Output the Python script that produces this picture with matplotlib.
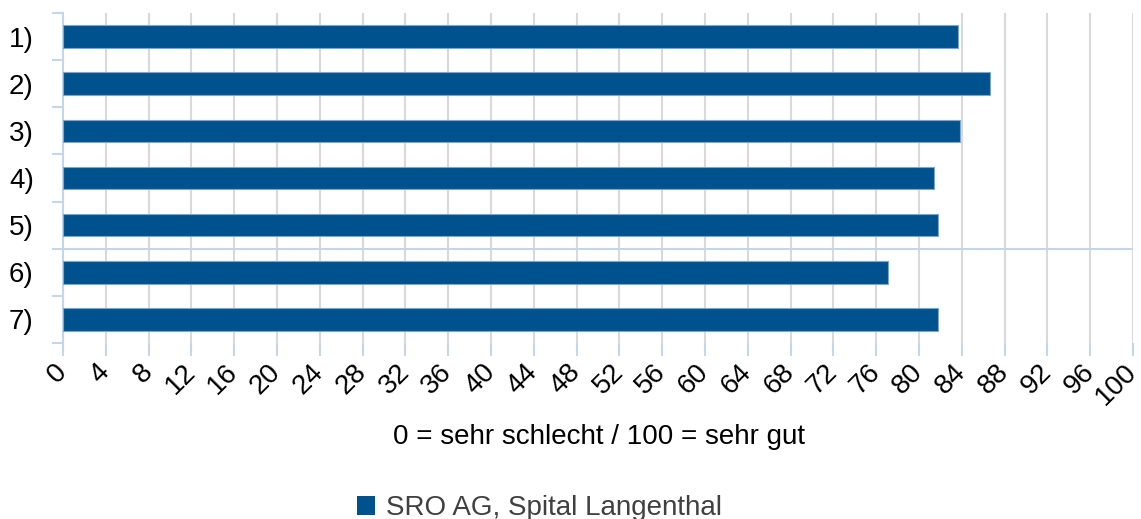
import matplotlib
matplotlib.use("Agg")
import matplotlib.pyplot as plt
from matplotlib.patches import Patch
import numpy as np

plt.rcParams['font.family'] = ['Liberation Sans', 'DejaVu Sans']

categories = ["1)", "2)", "3)", "4)", "5)", "6)", "7)"]
values = [83.6, 86.6, 83.8, 81.4, 81.8, 77.1, 81.8]
series_name = "SRO AG, Spital Langenthal"
xticks = list(range(0, 101, 4))
xlabel = "0 = sehr schlecht / 100 = sehr gut"

bar_color = "#00528F"
axis_blue = "#C6D6EA"
grid_gray = "#D9D9D9"

fig = plt.figure(figsize=(11.41, 5.19), dpi=100)
ax = fig.add_axes([63/1141, 1-343/519, (1133-63)/1141, (343-13)/519])

pos = np.arange(len(categories))
ax.barh(pos, values, height=0.48, color=bar_color, edgecolor="#7FA5C8", linewidth=0.8, zorder=3)

ax.set_xlim(0, 100)
ax.set_ylim(len(categories)-0.5, -0.5)

# gridlines
for t in xticks[1:]:
    ax.axvline(t, color=grid_gray, lw=1.5, zorder=1)
# stray horizontal axis line between 5) and 6)
ax.axhline(4.5, color=axis_blue, lw=1.5, zorder=2)

for s in ['top', 'right', 'bottom']:
    ax.spines[s].set_visible(False)
ax.spines['left'].set_color(axis_blue)
ax.spines['left'].set_linewidth(1.5)

ax.set_xticks(xticks)
ax.set_xticklabels([str(t) for t in xticks], rotation=45, ha='right', va='center',
                   rotation_mode='anchor', fontsize=20)
ax.tick_params(axis='x', length=9, width=1.5, color=axis_blue, pad=9)

ax.set_yticks(pos)
ax.set_yticklabels(categories, fontsize=20)
ax.tick_params(axis='y', length=0, pad=21)
ax.set_yticks(np.arange(-0.5, len(categories)), minor=True)
ax.tick_params(axis='y', which='minor', length=8, width=1.5, color=axis_blue)

fig.text(599/1141, 1-437/519, xlabel, ha='center', va='center', fontsize=20, color='black')

fig.legend(handles=[Patch(facecolor=bar_color, label=series_name)],
           loc='center left', bbox_to_anchor=(346/1141, 1-508/519), frameon=False,
           fontsize=20, handlelength=0.65, handleheight=0.65, handletextpad=0.4,
           labelcolor='#404040', borderaxespad=0)

fig.savefig("out.png", dpi=100)
